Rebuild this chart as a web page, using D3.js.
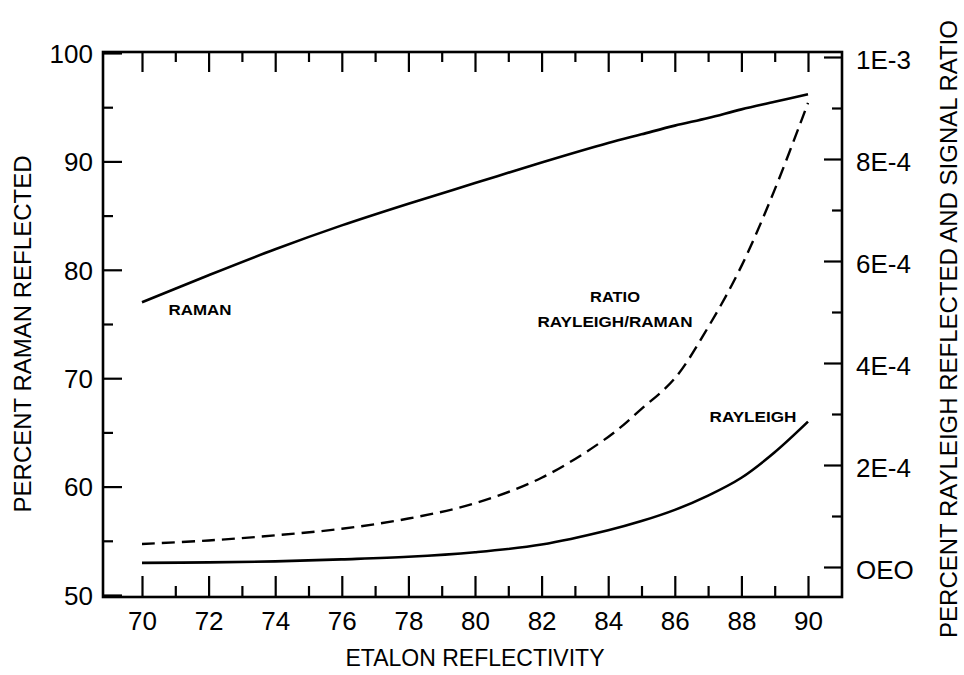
<!DOCTYPE html>
<html><head><meta charset="utf-8">
<script src="https://cdn.jsdelivr.net/npm/d3@7"></script>
<style>body{margin:0;background:#fff}svg{display:block}</style>
</head><body><svg id="c" width="964" height="675"></svg>
<script>
// ---- data ----
const reflectivity = [70,72,74,76,78,80,82,84,85,86,87,88,89,90];
const ramanPct     = [77.0,79.5,81.9,84.1,86.1,88.0,89.9,91.7,92.5,93.3,94.0,94.8,95.5,96.2];
const rayleighE4   = [0.08,0.09,0.11,0.15,0.20,0.29,0.44,0.72,0.90,1.12,1.40,1.75,2.25,2.85];
const ratioE4      = [0.45,0.52,0.62,0.75,0.95,1.25,1.75,2.55,3.10,3.70,4.70,5.90,7.40,9.10];
const xMajorTicks  = [70,72,74,76,78,80,82,84,86,88,90];
const xMinorTicks  = [71,73,75,77,79,81,83,85,87,89];
const leftMajorTicks = [50,60,70,80,90,100];
const leftMinorTicks = [55,65,75,85,95];
const rightMajorTicks = [0,2,4,6,8,10];
const rightMinorTicks = [1,3,5,7,9];
const rightTickLabels = ["OEO","2E-4","4E-4","6E-4","8E-4","1E-3"];

// ---- layout ----
const FONT = "'Liberation Sans', Arial, Helvetica, sans-serif";
const L = 103, R = 842, T = 52, B = 597;
const svg = d3.select("#c");
const x  = d3.scaleLinear().domain([70, 90]).range([142, 808]);
const yL = d3.scaleLinear().domain([50, 100]).range([595, 53]);
const yR = d3.scaleLinear().domain([0, 10]).range([567, 57]);

function strip(g){ g.select(".domain").remove(); g.selectAll("line").attr("stroke","#000").attr("stroke-width",2.2); }

// bottom axis
const gb = svg.append("g").attr("transform",`translate(0,${B})`)
  .call(d3.axisBottom(x).tickValues(xMajorTicks).tickSizeInner(-21).tickSizeOuter(0).tickFormat(d3.format("d")));
strip(gb);
gb.selectAll("text").attr("font-family",FONT).attr("font-size",26).attr("fill","#000").attr("y",33).attr("dy",0);
svg.append("g").attr("transform",`translate(0,${B})`)
  .call(d3.axisBottom(x).tickValues(xMinorTicks).tickSizeInner(-11).tickSizeOuter(0).tickFormat(""))
  .call(strip);
// top axis
svg.append("g").attr("transform",`translate(0,${T})`)
  .call(d3.axisTop(x).tickValues(xMajorTicks).tickSizeInner(-20).tickSizeOuter(0).tickFormat(""))
  .call(strip);
svg.append("g").attr("transform",`translate(0,${T})`)
  .call(d3.axisTop(x).tickValues(xMinorTicks).tickSizeInner(-10).tickSizeOuter(0).tickFormat(""))
  .call(strip);
// left axis
const gl = svg.append("g").attr("transform",`translate(${L},0)`)
  .call(d3.axisLeft(yL).tickValues(leftMajorTicks).tickSizeInner(-19).tickSizeOuter(0).tickPadding(10).tickFormat(d3.format("d")));
strip(gl);
gl.selectAll("text").attr("font-family",FONT).attr("font-size",26).attr("fill","#000").attr("x",-10).attr("dy","0.36em");
svg.append("g").attr("transform",`translate(${L},0)`)
  .call(d3.axisLeft(yL).tickValues(leftMinorTicks).tickSizeInner(-10).tickSizeOuter(0).tickFormat(""))
  .call(strip);
// right axis
const gr = svg.append("g").attr("transform",`translate(${R},0)`)
  .call(d3.axisRight(yR).tickValues(rightMajorTicks).tickSizeInner(-18).tickSizeOuter(0)
        .tickFormat((d,i)=>rightTickLabels[i]));
strip(gr);
gr.selectAll("text").attr("font-family",FONT).attr("font-size",26).attr("fill","#000").attr("x",14).attr("dy","0.45em");
svg.append("g").attr("transform",`translate(${R},0)`)
  .call(d3.axisRight(yR).tickValues(rightMinorTicks).tickSizeInner(-10).tickSizeOuter(0).tickFormat(""))
  .call(strip);

// frame
svg.append("rect").attr("x",L).attr("y",T).attr("width",R-L).attr("height",B-T)
  .attr("fill","none").attr("stroke","#000").attr("stroke-width",2.6);

// curves
const curve = d3.curveCatmullRom.alpha(0.5);
const lineL = d3.line().x((d,i)=>x(reflectivity[i])).y(d=>yL(d)).curve(curve);
const lineR = d3.line().x((d,i)=>x(reflectivity[i])).y(d=>yR(d)).curve(curve);
svg.append("path").attr("d",lineL(ramanPct)).attr("fill","none").attr("stroke","#000").attr("stroke-width",2.6);
svg.append("path").attr("d",lineR(rayleighE4)).attr("fill","none").attr("stroke","#000").attr("stroke-width",2.6);
svg.append("path").attr("d",lineR(ratioE4)).attr("fill","none").attr("stroke","#000").attr("stroke-width",2.4)
  .attr("stroke-dasharray","13,7");

// curve labels
function lab(t,cx,cy,w){
  svg.append("text").text(t).attr("x",cx).attr("y",cy).attr("text-anchor","middle")
    .attr("font-family",FONT).attr("font-weight","bold").attr("font-size",14.5).attr("fill","#000")
    .attr("dy","0.36em").attr("textLength",w).attr("lengthAdjust","spacingAndGlyphs");
}
lab("RAMAN",200,310,63);
lab("RATIO",615,297,50);
lab("RAYLEIGH/RAMAN",615,322,155);
lab("RAYLEIGH",753,417,87);

// axis titles
svg.append("text").text("ETALON REFLECTIVITY").attr("x",475).attr("y",666).attr("text-anchor","middle")
  .attr("font-family",FONT).attr("font-size",23).attr("fill","#000");
svg.append("text").text("PERCENT RAMAN REFLECTED").attr("transform","translate(31,334) rotate(-90)")
  .attr("text-anchor","middle").attr("font-family",FONT).attr("font-size",24).attr("fill","#000");
svg.append("text").text("PERCENT RAYLEIGH REFLECTED AND SIGNAL RATIO").attr("transform","translate(957,329) rotate(-90)")
  .attr("text-anchor","middle").attr("font-family",FONT).attr("font-size",24).attr("fill","#000");
</script></body></html>
